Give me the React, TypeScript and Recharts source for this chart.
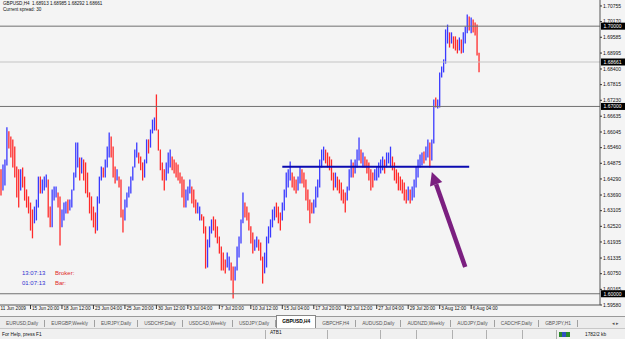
import React from 'react';
import { ComposedChart, Bar, XAxis, YAxis, ReferenceLine } from 'recharts';

// GBPUSD H4 bars (oldest first)
const opens = [
  1.6450, 1.6392, 1.6468, 1.6490, 1.6600, 1.6556, 1.6520, 1.6480, 1.6445, 1.6372,
  1.6392, 1.6455, 1.6405, 1.6358, 1.6330, 1.6308, 1.6245, 1.6270, 1.6318, 1.6345,
  1.6430, 1.6385, 1.6400, 1.6410, 1.6420, 1.6300, 1.6258, 1.6360, 1.6370, 1.6375,
  1.6330, 1.6255, 1.6305, 1.6310, 1.6340, 1.6315, 1.6345, 1.6390, 1.6445, 1.6500,
  1.6500, 1.6455, 1.6495, 1.6430, 1.6390, 1.6368, 1.6310, 1.6285, 1.6260, 1.6240,
  1.6355, 1.6430, 1.6465, 1.6440, 1.6495, 1.6540, 1.6580, 1.6520, 1.6445, 1.6425,
  1.6435, 1.6405, 1.6295, 1.6280, 1.6345, 1.6370, 1.6390, 1.6430, 1.6470, 1.6530,
  1.6525, 1.6495, 1.6470, 1.6440, 1.6495, 1.6568, 1.6550, 1.6605, 1.6640, 1.6652,
  1.6610, 1.6535, 1.6470, 1.6435, 1.6430, 1.6480, 1.6500, 1.6505, 1.6470, 1.6460,
  1.6445, 1.6440, 1.6418, 1.6370, 1.6332, 1.6375, 1.6390, 1.6395, 1.6345, 1.6335,
  1.6308, 1.6285, 1.6293, 1.6280, 1.6232, 1.6110, 1.6195, 1.6240, 1.6270, 1.6245,
  1.6218, 1.6195, 1.6160, 1.6140, 1.6100, 1.6100, 1.6095, 1.6110, 1.6058, 1.6055,
  1.6095, 1.6165, 1.6205, 1.6270, 1.6335, 1.6300, 1.6282, 1.6245, 1.6195, 1.6165,
  1.6185, 1.6198, 1.6170, 1.6132, 1.6080, 1.6145, 1.6205, 1.6240, 1.6265, 1.6300,
  1.6320, 1.6295, 1.6270, 1.6280, 1.6335, 1.6380, 1.6440, 1.6450, 1.6448, 1.6410,
  1.6400, 1.6390, 1.6430, 1.6460, 1.6420, 1.6405, 1.6358, 1.6320, 1.6330, 1.6305,
  1.6345, 1.6392, 1.6420, 1.6492, 1.6520, 1.6535, 1.6510, 1.6490, 1.6470, 1.6432,
  1.6400, 1.6435, 1.6400, 1.6385, 1.6365, 1.6345, 1.6355, 1.6395, 1.6455, 1.6485,
  1.6455, 1.6495, 1.6525, 1.6535, 1.6490, 1.6510, 1.6480, 1.6460, 1.6430, 1.6420,
  1.6428, 1.6440, 1.6455, 1.6470, 1.6480, 1.6495, 1.6475, 1.6495, 1.6500, 1.6505,
  1.6470, 1.6440, 1.6425, 1.6420, 1.6405, 1.6385, 1.6365, 1.6350, 1.6385, 1.6350,
  1.6380, 1.6420, 1.6460, 1.6490, 1.6500, 1.6520, 1.6500, 1.6535, 1.6560, 1.6500,
  1.6570, 1.6725, 1.6700, 1.6715, 1.6815, 1.6840, 1.6868, 1.6970, 1.6970, 1.6940,
  1.6955, 1.6930, 1.6925, 1.6912, 1.6945, 1.6908, 1.6965, 1.6990, 1.7030, 1.6990,
  1.7020, 1.6990, 1.6975, 1.68913,
];
const highs = [
  1.6463, 1.6481, 1.6500, 1.6620, 1.6605, 1.6586, 1.6575, 1.6548, 1.6474, 1.6463,
  1.6463, 1.6470, 1.6436, 1.6388, 1.6362, 1.6339, 1.6313, 1.6324, 1.6350, 1.6436,
  1.6436, 1.6425, 1.6436, 1.6444, 1.6425, 1.6324, 1.6388, 1.6399, 1.6399, 1.6377,
  1.6362, 1.6313, 1.6339, 1.6343, 1.6350, 1.6350, 1.6388, 1.6451, 1.6563, 1.6563,
  1.6507, 1.6507, 1.6500, 1.6489, 1.6451, 1.6377, 1.6362, 1.6324, 1.6302, 1.6362,
  1.6436, 1.6474, 1.6470, 1.6500, 1.6548, 1.6601, 1.6586, 1.6548, 1.6474, 1.6463,
  1.6436, 1.6425, 1.6313, 1.6350, 1.6377, 1.6399, 1.6436, 1.6474, 1.6537, 1.6563,
  1.6526, 1.6511, 1.6489, 1.6500, 1.6575, 1.6575, 1.6612, 1.6649, 1.6657, 1.6743,
  1.6612, 1.6537, 1.6489, 1.6463, 1.6489, 1.6526, 1.6537, 1.6511, 1.6500, 1.6489,
  1.6481, 1.6451, 1.6436, 1.6425, 1.6388, 1.6399, 1.6425, 1.6399, 1.6388, 1.6350,
  1.6339, 1.6324, 1.6295, 1.6287, 1.6250, 1.6201, 1.6250, 1.6276, 1.6287, 1.6276,
  1.6250, 1.6212, 1.6175, 1.6152, 1.6126, 1.6152, 1.6137, 1.6115, 1.6100, 1.6100,
  1.6175, 1.6212, 1.6276, 1.6377, 1.6339, 1.6324, 1.6302, 1.6250, 1.6227, 1.6201,
  1.6212, 1.6201, 1.6190, 1.6137, 1.6152, 1.6212, 1.6250, 1.6276, 1.6313, 1.6324,
  1.6339, 1.6324, 1.6302, 1.6339, 1.6388, 1.6451, 1.6463, 1.6492, 1.6451, 1.6436,
  1.6425, 1.6436, 1.6474, 1.6463, 1.6451, 1.6425, 1.6388, 1.6350, 1.6339, 1.6350,
  1.6399, 1.6425, 1.6500, 1.6537, 1.6548, 1.6537, 1.6526, 1.6511, 1.6500, 1.6451,
  1.6451, 1.6436, 1.6425, 1.6414, 1.6388, 1.6377, 1.6399, 1.6463, 1.6500, 1.6489,
  1.6500, 1.6537, 1.6582, 1.6537, 1.6526, 1.6511, 1.6500, 1.6489, 1.6463, 1.6451,
  1.6463, 1.6474, 1.6489, 1.6500, 1.6511, 1.6500, 1.6526, 1.6526, 1.6548, 1.6511,
  1.6489, 1.6463, 1.6451, 1.6436, 1.6425, 1.6414, 1.6388, 1.6399, 1.6388, 1.6399,
  1.6425, 1.6474, 1.6500, 1.6519, 1.6526, 1.6530, 1.6548, 1.6575, 1.6563, 1.6575,
  1.6724, 1.6732, 1.6724, 1.6825, 1.6847, 1.6874, 1.6986, 1.7004, 1.6975, 1.6975,
  1.6960, 1.6960, 1.6948, 1.6956, 1.6948, 1.6975, 1.6997, 1.7042, 1.7034, 1.7031,
  1.7023, 1.7012, 1.7004, 1.68985,
];
const lows = [
  1.6369, 1.6388, 1.6406, 1.6481, 1.6545, 1.6511, 1.6474, 1.6436, 1.6362, 1.6324,
  1.6388, 1.6399, 1.6350, 1.6324, 1.6302, 1.6238, 1.6209, 1.6265, 1.6276, 1.6324,
  1.6377, 1.6377, 1.6388, 1.6399, 1.6287, 1.6250, 1.6250, 1.6350, 1.6362, 1.6324,
  1.6182, 1.6250, 1.6276, 1.6302, 1.6302, 1.6313, 1.6324, 1.6388, 1.6436, 1.6474,
  1.6425, 1.6451, 1.6425, 1.6377, 1.6362, 1.6302, 1.6276, 1.6250, 1.6227, 1.6238,
  1.6339, 1.6425, 1.6436, 1.6436, 1.6474, 1.6511, 1.6511, 1.6436, 1.6414, 1.6425,
  1.6399, 1.6287, 1.6231, 1.6276, 1.6324, 1.6362, 1.6377, 1.6425, 1.6474, 1.6511,
  1.6489, 1.6463, 1.6425, 1.6436, 1.6489, 1.6526, 1.6548, 1.6601, 1.6612, 1.6612,
  1.6537, 1.6463, 1.6425, 1.6388, 1.6425, 1.6451, 1.6474, 1.6463, 1.6451, 1.6436,
  1.6425, 1.6414, 1.6362, 1.6324, 1.6324, 1.6350, 1.6377, 1.6339, 1.6324, 1.6302,
  1.6302, 1.6276, 1.6276, 1.6227, 1.6096, 1.6100, 1.6175, 1.6227, 1.6238, 1.6212,
  1.6190, 1.6152, 1.6089, 1.6089, 1.6078, 1.6100, 1.6089, 1.6051, 1.5984, 1.6051,
  1.6089, 1.6137, 1.6190, 1.6265, 1.6287, 1.6276, 1.6238, 1.6190, 1.6152, 1.6163,
  1.6175, 1.6163, 1.6126, 1.6040, 1.6078, 1.6100, 1.6190, 1.6212, 1.6250, 1.6276,
  1.6287, 1.6265, 1.6238, 1.6276, 1.6313, 1.6362, 1.6399, 1.6425, 1.6399, 1.6388,
  1.6377, 1.6388, 1.6414, 1.6414, 1.6399, 1.6350, 1.6313, 1.6265, 1.6302, 1.6302,
  1.6324, 1.6362, 1.6399, 1.6474, 1.6500, 1.6489, 1.6474, 1.6463, 1.6425, 1.6388,
  1.6399, 1.6388, 1.6377, 1.6350, 1.6339, 1.6306, 1.6350, 1.6388, 1.6436, 1.6436,
  1.6451, 1.6474, 1.6500, 1.6489, 1.6474, 1.6474, 1.6451, 1.6425, 1.6388, 1.6399,
  1.6425, 1.6425, 1.6436, 1.6451, 1.6463, 1.6451, 1.6474, 1.6489, 1.6474, 1.6463,
  1.6425, 1.6414, 1.6388, 1.6388, 1.6377, 1.6350, 1.6339, 1.6350, 1.6339, 1.6350,
  1.6362, 1.6399, 1.6436, 1.6474, 1.6481, 1.6489, 1.6500, 1.6511, 1.6474, 1.6500,
  1.6563, 1.6698, 1.6694, 1.6698, 1.6810, 1.6829, 1.6862, 1.6937, 1.6922, 1.6937,
  1.6918, 1.6911, 1.6900, 1.6911, 1.6900, 1.6903, 1.6937, 1.6975, 1.6986, 1.6975,
  1.6978, 1.6967, 1.6892, 1.68292,
];
const closes = [
  1.6385, 1.6470, 1.6495, 1.6600, 1.6556, 1.6520, 1.6480, 1.6445, 1.6372, 1.6335,
  1.6455, 1.6405, 1.6358, 1.6330, 1.6308, 1.6245, 1.6220, 1.6318, 1.6345, 1.6430,
  1.6385, 1.6420, 1.6430, 1.6440, 1.6300, 1.6258, 1.6380, 1.6395, 1.6395, 1.6330,
  1.6200, 1.6305, 1.6335, 1.6340, 1.6310, 1.6345, 1.6380, 1.6445, 1.6550, 1.6555,
  1.6435, 1.6500, 1.6430, 1.6385, 1.6368, 1.6310, 1.6285, 1.6258, 1.6235, 1.6355,
  1.6430, 1.6465, 1.6440, 1.6495, 1.6540, 1.6595, 1.6520, 1.6445, 1.6420, 1.6455,
  1.6405, 1.6295, 1.6240, 1.6345, 1.6372, 1.6395, 1.6430, 1.6470, 1.6530, 1.6555,
  1.6495, 1.6470, 1.6432, 1.6495, 1.6568, 1.6530, 1.6605, 1.6645, 1.6652, 1.6620,
  1.6545, 1.6470, 1.6432, 1.6395, 1.6480, 1.6520, 1.6530, 1.6470, 1.6455, 1.6440,
  1.6430, 1.6418, 1.6370, 1.6332, 1.6380, 1.6395, 1.6420, 1.6345, 1.6330, 1.6308,
  1.6335, 1.6318, 1.6280, 1.6232, 1.6110, 1.6195, 1.6245, 1.6270, 1.6245, 1.6218,
  1.6195, 1.6160, 1.6100, 1.6095, 1.6082, 1.6145, 1.6130, 1.6058, 1.6000, 1.6095,
  1.6170, 1.6205, 1.6270, 1.6360, 1.6295, 1.6282, 1.6245, 1.6195, 1.6160, 1.6195,
  1.6208, 1.6170, 1.6132, 1.6050, 1.6145, 1.6205, 1.6245, 1.6270, 1.6308, 1.6320,
  1.6295, 1.6270, 1.6245, 1.6335, 1.6380, 1.6445, 1.6458, 1.6485, 1.6405, 1.6392,
  1.6382, 1.6430, 1.6468, 1.6420, 1.6405, 1.6358, 1.6320, 1.6275, 1.6305, 1.6345,
  1.6392, 1.6420, 1.6492, 1.6530, 1.6542, 1.6495, 1.6480, 1.6470, 1.6432, 1.6395,
  1.6445, 1.6395, 1.6382, 1.6358, 1.6345, 1.6315, 1.6395, 1.6455, 1.6495, 1.6445,
  1.6495, 1.6530, 1.6540, 1.6495, 1.6520, 1.6480, 1.6458, 1.6430, 1.6395, 1.6405,
  1.6458, 1.6468, 1.6482, 1.6495, 1.6505, 1.6460, 1.6520, 1.6522, 1.6540, 1.6470,
  1.6432, 1.6420, 1.6395, 1.6392, 1.6382, 1.6358, 1.6345, 1.6392, 1.6345, 1.6392,
  1.6420, 1.6468, 1.6495, 1.6512, 1.6520, 1.6495, 1.6540, 1.6568, 1.6485, 1.6570,
  1.6715, 1.6705, 1.6718, 1.6815, 1.6840, 1.6868, 1.6975, 1.6990, 1.6930, 1.6968,
  1.6925, 1.6918, 1.6905, 1.6950, 1.6908, 1.6968, 1.6990, 1.7030, 1.6995, 1.7025,
  1.6985, 1.6975, 1.6900, 1.68661,
];

// time axis: bar index -> label
const timeTicks = [0, 15, 31, 47, 63, 79, 95, 111, 127, 143, 159, 175, 191, 207, 223, 239];
const timeLabels = [
  '11 Jun 2009', '15 Jun 20:00', '18 Jun 12:00', '23 Jun 04:00', '25 Jun 20:00', '30 Jun 12:00',
  '3 Jul 04:00', '7 Jul 20:00', '10 Jul 12:00', '15 Jul 04:00', '17 Jul 20:00', '22 Jul 12:00',
  '27 Jul 04:00', '29 Jul 20:00', '3 Aug 12:00', '6 Aug 04:00',
];
const priceTicks = [
  1.70755, 1.7017, 1.69585, 1.68995, 1.684, 1.67815, 1.6723, 1.66635, 1.66045, 1.6546,
  1.64875, 1.6429, 1.6369, 1.63105, 1.6252, 1.61935, 1.61335, 1.6075, 1.60165, 1.5958,
];
const priceMin = 1.5958;
const priceMax = 1.70978;
const slots = 305; // visible bar slots incl. right shift

const levels = [1.7, 1.67, 1.6];
const bid = 1.68661;
const support = { price: 1.6475, from: 143, to: 238 };
const arrow = { fromIdx: 236, fromPrice: 1.61, toIdx: 219, toPrice: 1.6455 };

const tabs = [
  'EURUSD,Daily', 'EURGBP,Weekly', 'EURJPY,Daily', 'USDCHF,Daily', 'USDCAD,Weekly', 'USDJPY,Daily',
  'GBPUSD,H4', 'GBPCHF,H4', 'AUDUSD,Daily', 'AUDNZD,Weekly', 'AUDJPY,Daily', 'CADCHF,Daily', 'GBPJPY,H1',
];
const activeTab = 'GBPUSD,H4';

const UP = '#3a3aff';
const DOWN = '#ff2a2a';
const FONT = '"Liberation Sans", Arial, sans-serif';

const data = Array.from({ length: slots }, (_, i) =>
  i < closes.length
    ? { i, o: opens[i], h: highs[i], l: lows[i], c: closes[i], range: [lows[i], highs[i]] }
    : { i, range: null }
);

// H4 bar: high-low stick coloured by direction (open/close ticks merge at this zoom)
const OhlcBar = (props: any) => {
  const { x, y, width, height, payload } = props;
  if (!payload || payload.h == null) return <g />;
  const top = Math.min(y, y + height);
  const h = Math.abs(height);
  const cx = x + width / 2;
  const col = payload.c >= payload.o ? UP : DOWN;
  return <line x1={cx} x2={cx} y1={top - 0.5} y2={top + h + 0.5} stroke={col} strokeWidth={1.3} />;
};

const TimeTick = (props: any) => {
  const { x, y, payload } = props;
  const k = timeTicks.indexOf(payload.value);
  const first = k === 0;
  return (
    <g>
      {!first && <line x1={x} x2={x} y1={y} y2={y + 4} stroke="#333" strokeWidth={1} />}
      <text x={first ? 0.5 : x + 1.5} y={y + 5.2} fontSize={4.7} fontFamily={FONT} fill="#111">
        {timeLabels[k]}
      </text>
    </g>
  );
};

const PriceTick = (props: any) => {
  const { x, y, payload } = props;
  return (
    <text x={x} y={y + 1.8} fontSize={5} fontFamily={FONT} fill="#111" textAnchor="start">
      {payload.value.toFixed(5)}
    </text>
  );
};

const tag = (value: number) => (p: any) => {
  const vb = p.viewBox || {};
  const right = vb.x + vb.width;
  return (
    <g>
      <rect x={right + 1} y={vb.y - 3.5} width={24} height={7} fill="#000" />
      <text x={right + 3.5} y={vb.y + 1.8} fontSize={5} fontFamily={FONT} fill="#fff">
        {value.toFixed(5)}
      </text>
    </g>
  );
};

const ArrowShape = (props: any) => {
  const { x1, y1, x2, y2 } = props;
  const dx = x2 - x1;
  const dy = y2 - y1;
  const len = Math.sqrt(dx * dx + dy * dy) || 1;
  const ux = dx / len;
  const uy = dy / len;
  const headLen = 13;
  const headW = 6.5;
  const bx = x2 - ux * headLen;
  const by = y2 - uy * headLen;
  return (
    <g>
      <line x1={x1} y1={y1} x2={bx} y2={by} stroke="#7b1f80" strokeWidth={4.5} />
      <polygon
        points={`${x2},${y2} ${bx - uy * headW},${by + ux * headW} ${bx + uy * headW},${by - ux * headW}`}
        fill="#7b1f80"
      />
    </g>
  );
};

export default function App() {
  return (
    <div
      style={{
        position: 'absolute', left: 0, top: 0, width: 625, height: 339, overflow: 'hidden',
        background: '#f4f4f4', fontFamily: FONT,
      }}
    >
      <ComposedChart width={625} height={316} data={data} margin={{ top: 0, right: 0, bottom: 3, left: 0 }} barCategoryGap={0}>
        <XAxis
          dataKey="i"
          type="category"
          ticks={timeTicks}
          interval={0}
          tick={<TimeTick />}
          tickLine={false}
          tickSize={0}
          tickMargin={0}
          axisLine={{ stroke: '#555' }}
          height={8}
        />
        <YAxis
          orientation="right"
          type="number"
          domain={[priceMin, priceMax]}
          allowDataOverflow
          ticks={priceTicks}
          interval={0}
          width={25}
          tickSize={2}
          tickMargin={1}
          tickLine={{ stroke: '#333' }}
          axisLine={{ stroke: '#555' }}
          tick={<PriceTick />}
        />
        <ReferenceLine y={bid} stroke="#c4c4c4" strokeWidth={1} label={tag(bid)} />
        {levels.map((v) => (
          <ReferenceLine key={v} y={v} stroke="#707070" strokeWidth={1} label={tag(v)} />
        ))}
        <Bar dataKey="range" shape={<OhlcBar />} isAnimationActive={false} />
        <ReferenceLine
          segment={[{ x: support.from, y: support.price }, { x: support.to, y: support.price }]}
          stroke="#0a0ab0"
          strokeWidth={2}
        />
        <ReferenceLine
          segment={[{ x: arrow.fromIdx, y: arrow.fromPrice }, { x: arrow.toIdx, y: arrow.toPrice }]}
          shape={<ArrowShape />}
        />
      </ComposedChart>

      {/* chart header */}
      <div style={{ position: 'absolute', left: 3, top: 1, fontSize: 4.6, lineHeight: '5.5px', color: '#111' }}>
        <div>GBPUSD,H4&nbsp; 1.68913 1.68985 1.68292 1.68661</div>
        <div>Current spread: 30</div>
      </div>

      {/* clock */}
      <div style={{ position: 'absolute', left: 22, top: 268, fontSize: 6, lineHeight: '10px' }}>
        <div><span style={{ color: '#3030d0', display: 'inline-block', width: 33 }}>13:07:13</span><span style={{ color: '#e02828' }}>Broker:</span></div>
        <div><span style={{ color: '#3030d0', display: 'inline-block', width: 33 }}>01:07:13</span><span style={{ color: '#e02828' }}>Bar:</span></div>
      </div>

      {/* tabs */}
      <div
        style={{
          position: 'absolute', left: 0, top: 316, width: 625, height: 12, borderTop: '1px solid #9a9a9a',
          background: '#ececec', display: 'flex', alignItems: 'center', fontSize: 4.8, color: '#333',
        }}
      >
        {tabs.map((t) => {
          const on = t === activeTab;
          return (
            <div
              key={t}
              style={{
                padding: on ? '0 5px' : '0 6px', height: on ? 12 : 7, lineHeight: on ? '11px' : '7px',
                marginTop: on ? -2 : 0,
                background: on ? '#fff' : 'transparent', fontWeight: on ? 'bold' : 'normal',
                border: on ? '1px solid #888' : 'none',
                borderRight: on ? '1px solid #888' : '1px solid #a0a0a0', color: on ? '#000' : '#555',
              }}
            >
              {t}
            </div>
          );
        })}
        <div style={{ marginLeft: 'auto', marginRight: 6, fontSize: 4.8, color: '#555' }}>◂ ▸</div>
      </div>

      {/* status bar */}
      <div
        style={{
          position: 'absolute', left: 0, top: 328, width: 625, height: 11, background: '#f0f0f0',
          borderTop: '1px solid #c8c8c8', display: 'flex', alignItems: 'center', fontSize: 4.8, color: '#111',
        }}
      >
        <div style={{ width: 263, paddingLeft: 2 }}>For Help, press F1</div>
        <div style={{ width: 57, borderLeft: '1px solid #b0b0b0', paddingLeft: 4, height: 9 }}>ATB1</div>
        {[52, 35, 35, 33, 35, 33].map((w, k) => (
          <div key={k} style={{ width: w, borderLeft: '1px solid #b0b0b0', height: 9 }} />
        ))}
        <div style={{ borderLeft: '1px solid #b0b0b0', height: 9, display: 'flex', alignItems: 'center', paddingLeft: 2 }}>
          <div style={{ width: 11, height: 5, background: 'linear-gradient(90deg,#2a8a2a 0 30%,#3050c0 30% 60%,#2a8a2a 60%)' }} />
          <span style={{ marginLeft: 15 }}>1782/2 kb</span>
        </div>
      </div>
    </div>
  );
}
